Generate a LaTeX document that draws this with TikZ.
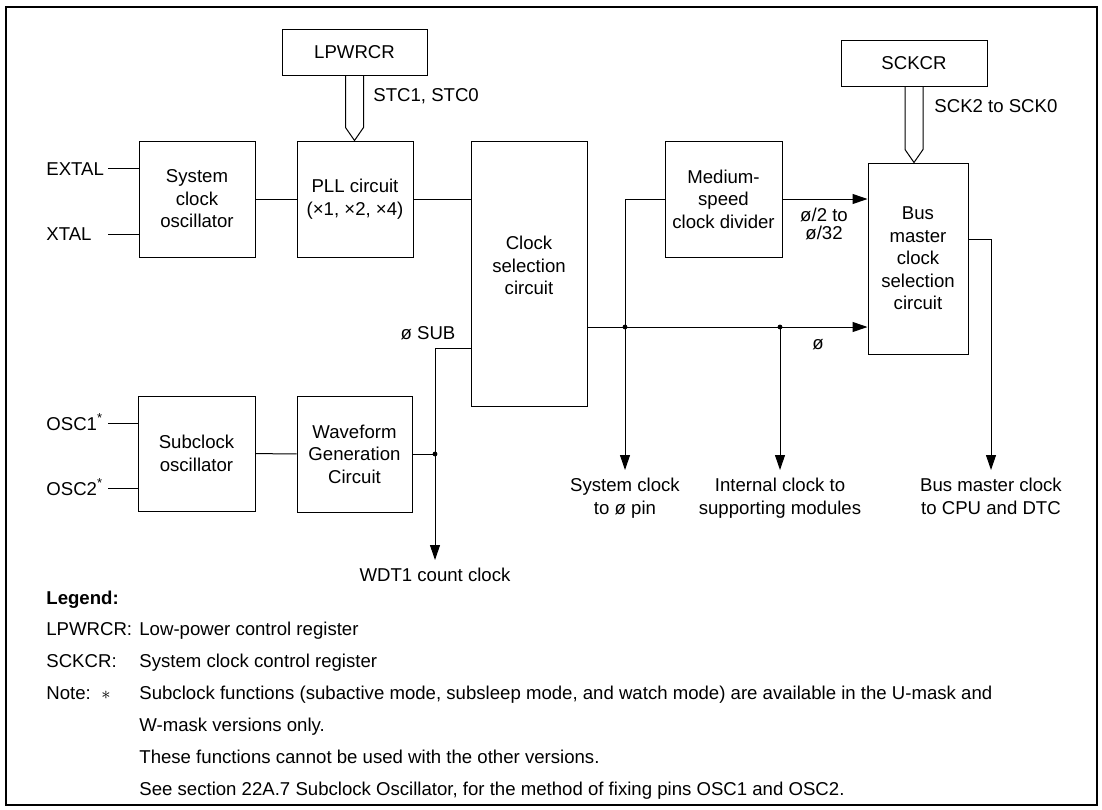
\documentclass[tikz,border=0pt]{standalone}
\usepackage{fontspec}
\setmainfont{Liberation Sans}
\usetikzlibrary{arrows.meta, positioning, calc}
\newcommand{\fsz}{\fontsize{9.3pt}{11.25pt}\selectfont}
\tikzstyle{block} = [rectangle, draw=black, line width=0.5pt, inner sep=0pt, align=center, font=\fsz]
\tikzstyle{txt} = [inner sep=0pt, align=center, font=\fsz]
\tikzstyle{sink} = [inner sep=4pt, align=center, anchor=north, font=\fsz]
\tikzstyle{wire} = [line width=0.5pt]
\tikzstyle{arrow} = [line width=0.5pt, -{Triangle[length=7.5pt,width=5pt]}]
% hollow register bus arrow
\newcommand{\regbus}[2]{%
  \draw[wire] ($(#1.south)+(-9,0)$) -- ($(#1.south |- #2.north)+(-9,-13)$) -- (#1.south |- #2.north)
    -- ($(#1.south |- #2.north)+(9,-13)$) -- ($(#1.south)+(9,0)$);}

\begin{document}
\begin{tikzpicture}[x=0.5pt, y=-0.5pt]
  \useasboundingbox (0,0) rectangle (1102,809);
  \draw[line width=0.6pt] (6,7) rectangle (1097,805);

  % registers
  \node[block, minimum width=72.5pt, minimum height=23pt] (lpwrcr) at (354.5,52) {LPWRCR};
  \node[block, minimum width=73pt, minimum height=23pt] (sckcr) at (914,63) {SCKCR};

  % main clock path
  \node[block, minimum width=58pt, minimum height=58pt] (sysosc) at (197,199) {System\\clock\\oscillator};
  \node[block, minimum width=58pt, minimum height=58pt] (pll) at (355,199) {PLL circuit\\(×1, ×2, ×4)};
  \node[block, minimum width=58pt, minimum height=132.5pt] (clksel) at (529,273.5) {};
  \node[txt] (clkseltxt) at ($(clksel)+(0,-8)$) {Clock\\selection\\circuit};
  \node[block, minimum width=58.5pt, minimum height=58pt] (medium) at (723.5,199) {Medium-\\speed\\clock divider};
  \node[block, minimum width=50pt, minimum height=95.5pt] (busm) at (918,258.5) {Bus\\master\\clock\\selection\\circuit};

  % subclock path
  \node[block, minimum width=58.5pt, minimum height=57.5pt] (subosc) at (196.5,453.5) {Subclock\\oscillator};
  \node[block, minimum width=57.5pt, minimum height=58pt] (wave) at (354.5,454) {Waveform\\Generation\\Circuit};

  % pins
  \coordinate (pinx) at (108,0);
  \node[txt, anchor=base west] (extal) at (46,175) {EXTAL};
  \node[txt, anchor=base west] (xtal) at (46,240) {XTAL};
  \node[txt, anchor=base west] (osc1) at (46,430) {OSC1\textsuperscript{*}};
  \node[txt, anchor=base west] (osc2) at (46,495) {OSC2\textsuperscript{*}};
  \coordinate (extalpin) at (pinx |- 0,168);
  \coordinate (xtalpin) at (pinx |- 0,234);
  \coordinate (osc1pin) at (pinx |- 0,423);
  \coordinate (osc2pin) at (pinx |- 0,488);
  \draw[wire] (extalpin) -- (extalpin -| sysosc.west);
  \draw[wire] (xtalpin) -- (xtalpin -| sysosc.west);
  \draw[wire] (osc1pin) -- (osc1pin -| subosc.west);
  \draw[wire] (osc2pin) -- (osc2pin -| subosc.west);

  \draw[wire] (sysosc) -- (pll);
  \draw[wire] (pll.east) -- (pll.east -| clksel.west);
  \draw[wire] (subosc) -- (wave);

  % register buses
  \regbus{lpwrcr}{pll}
  \regbus{sckcr}{busm}
  \node[txt, anchor=base west] (stc) at (373,101) {STC1, STC0};
  \node[txt, anchor=base west] (sck) at (934,112) {SCK2 to SCK0};

  % sub clock to selector and WDT1
  \coordinate (subtap) at (435,454);
  \coordinate (subin) at (471,348);
  \draw[wire] (wave.east) -- (subtap);
  \draw[wire] (subin) -| (subtap);
  \fill (subtap) circle (1.2pt);
  \node[txt] (phisub) at (428,333) {ø SUB};
  \node[sink] (wdt) at (435,560) {WDT1 count clock};
  \draw[arrow] (subtap) -- (wdt);

  % system clock distribution
  \coordinate (phiout) at (587,327);
  \coordinate (tap1) at (625,327);
  \coordinate (tap2) at (780,327);
  \draw[arrow] (phiout) -- (phiout -| busm.west);
  \draw[wire] (tap1) |- (medium.west);
  \draw[arrow] (medium.east) -- (medium.east -| busm.west);
  \fill (tap1) circle (1.2pt);
  \fill (tap2) circle (1.2pt);
  \node[txt, font=\fontsize{9.3pt}{9pt}\selectfont] (divlbl) at (824,224) {ø/2 to\\ø/32};
  \node[txt] (philbl) at (818,345) {ø};

  \node[sink] (syspin) at (625,470) {System clock\\to ø pin};
  \node[sink] (intclk) at (780,470) {Internal clock to\\supporting modules};
  \node[sink] (bmclk) at (991,470) {Bus master clock\\to CPU and DTC};
  \draw[arrow] (tap1) -- (syspin);
  \draw[arrow] (tap2) -- (intclk);
  \coordinate (bmout) at (968,239);
  \draw[arrow] (bmout) -| (bmclk);

  % legend
  \node[txt, anchor=base west, font=\fsz\bfseries] (legend) at (46,604) {Legend:};
  \node[txt, anchor=base west] (lgk1) at (46,635) {LPWRCR:};
  \node[txt, anchor=base west] (lgv1) at (139,635) {Low-power control register};
  \node[txt, anchor=base west] (lgk2) at (46,667) {SCKCR:};
  \node[txt, anchor=base west] (lgv2) at (139,667) {System clock control register};
  \node[txt, anchor=base west] (note) at (46,699) {Note:};
  \node[txt, anchor=base west] (star) at (101,699) {$\ast$};
  \node[txt, anchor=base west] (nt1) at (139,699) {Subclock functions (subactive mode, subsleep mode, and watch mode) are available in the U-mask and};
  \node[txt, anchor=base west] (nt2) at (139,731) {W-mask versions only.};
  \node[txt, anchor=base west] (nt3) at (139,763) {These functions cannot be used with the other versions.};
  \node[txt, anchor=base west] (nt4) at (139,795) {See section 22A.7 Subclock Oscillator, for the method of fixing pins OSC1 and OSC2.};
\end{tikzpicture}
\end{document}
